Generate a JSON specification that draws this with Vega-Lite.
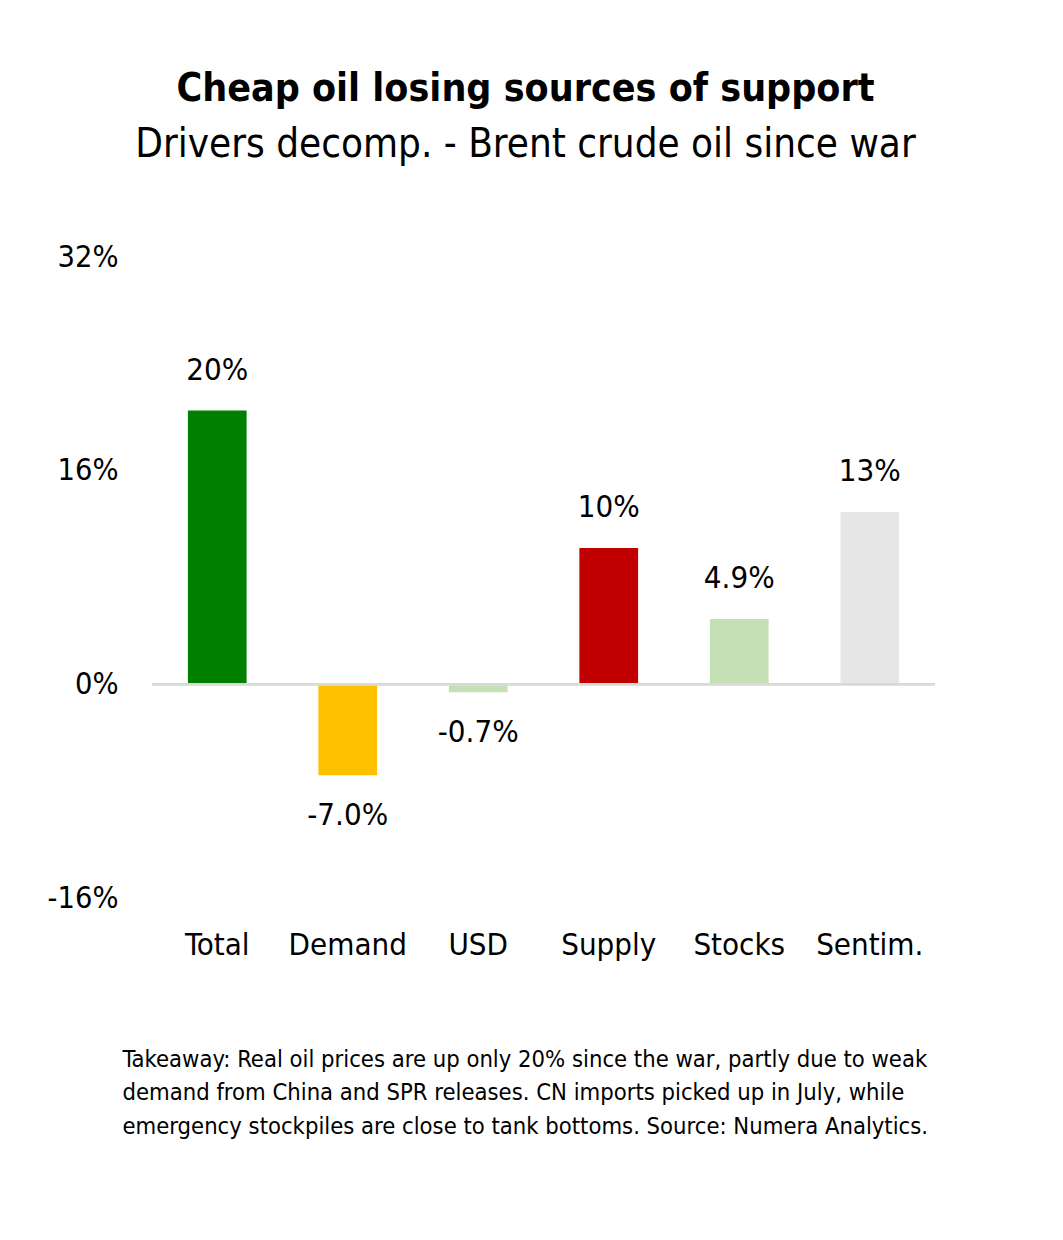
{
  "$schema": "https://vega.github.io/schema/vega-lite/v6.json",
  "width": 783,
  "height": 641,
  "padding": {"left": 47, "top": 70, "right": 20, "bottom": 20},
  "background": "white",
  "config": {
    "font": "DejaVu Sans Condensed",
    "view": {"stroke": null}
  },
  "title": {
    "text": "Cheap oil losing sources of support",
    "subtitle": "Drivers decomp. - Brent crude oil since war",
    "font": "DejaVu Sans Condensed",
    "fontSize": 39,
    "fontWeight": "bold",
    "subtitleFont": "DejaVu Sans Condensed",
    "subtitleFontSize": 40,
    "subtitleColor": "black",
    "color": "black",
    "anchor": "middle",
    "dx": -18,
    "offset": 77,
    "subtitlePadding": 16
  },
  "data": {
    "values": [
      {"driver": "Total", "value": 0.205, "label": "20%", "color": "#008000"},
      {"driver": "Demand", "value": -0.068, "label": "-7.0%", "color": "#FFC000"},
      {"driver": "USD", "value": -0.006, "label": "-0.7%", "color": "#C5E0B4"},
      {"driver": "Supply", "value": 0.102, "label": "10%", "color": "#C00000"},
      {"driver": "Stocks", "value": 0.049, "label": "4.9%", "color": "#C5E0B4"},
      {"driver": "Sentim.", "value": 0.129, "label": "13%", "color": "#E6E6E6"}
    ]
  },
  "encoding": {
    "x": {
      "field": "driver",
      "type": "nominal",
      "sort": null,
      "scale": {"paddingInner": 0.55, "paddingOuter": 0.275},
      "axis": {
        "domain": false,
        "ticks": false,
        "labelAngle": 0,
        "labelFontSize": 31,
        "labelColor": "black",
        "labelPadding": 32,
        "title": [
          "Takeaway: Real oil prices are up only 20% since the war, partly due to weak",
          "demand from China and SPR releases.  CN imports picked up in July, while",
          "emergency stockpiles are close to tank bottoms. Source: Numera Analytics."
        ],
        "titleFont": "DejaVu Sans Condensed",
        "titleFontSize": 23.6,
        "titleFontWeight": "normal",
        "titleColor": "black",
        "titleAlign": "left",
        "titleAnchor": "start",
        "titleX": -30,
        "titleLineHeight": 33.5,
        "titlePadding": 87
      }
    },
    "y": {
      "field": "value",
      "type": "quantitative",
      "scale": {"domain": [-0.16, 0.32], "nice": false, "zero": false},
      "axis": {
        "values": [-0.16, 0, 0.16, 0.32],
        "labelExpr": "(datum.value < 0 ? '-' : '') + abs(round(datum.value * 100)) + '%'",
        "domain": false,
        "ticks": false,
        "grid": false,
        "labelFontSize": 30.5,
        "labelColor": "black",
        "labelPadding": 34,
        "title": null
      }
    }
  },
  "layer": [
    {
      "mark": {"type": "bar"},
      "encoding": {
        "color": {"field": "color", "type": "nominal", "scale": null, "legend": null}
      }
    },
    {
      "mark": {"type": "rule", "color": "#D9D9D9", "strokeWidth": 2},
      "encoding": {
        "x": {"value": 0},
        "x2": {"value": 783},
        "y": {"datum": 0}
      }
    },
    {
      "transform": [{"filter": "datum.value >= 0"}],
      "mark": {"type": "text", "baseline": "bottom", "dy": -24, "fontSize": 31, "color": "black"},
      "encoding": {"text": {"field": "label"}}
    },
    {
      "transform": [{"filter": "datum.value < 0"}],
      "mark": {"type": "text", "baseline": "top", "dy": 26, "fontSize": 31, "color": "black"},
      "encoding": {"text": {"field": "label"}}
    }
  ]
}
